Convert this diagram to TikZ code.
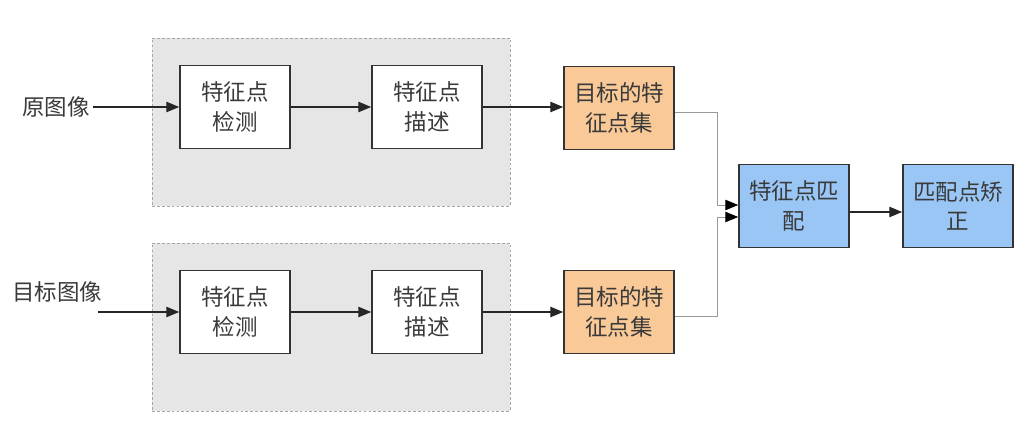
\documentclass[tikz,border=0pt]{standalone}
\usepackage{fontspec}
\newfontfamily\cjk{Noto Sans CJK SC}
\usetikzlibrary{arrows.meta, positioning, calc}
\definecolor{featorange}{RGB}{249,202,152}
\definecolor{matchblue}{RGB}{153,198,245}
\definecolor{panelgray}{RGB}{230,230,230}
\definecolor{inkgray}{RGB}{58,58,58}

\begin{document}
\begin{tikzpicture}[
    x=0.025cm, y=-0.025cm,
    panel/.style={draw=black!35, line width=0.5pt, dash pattern=on 2pt off 1.5pt, fill=panelgray, minimum width=8.95cm, minimum height=4.2cm, inner sep=0pt},
    box/.style={draw=black!80, fill=white, line width=1.2pt, minimum width=2.75cm, minimum height=2.075cm, align=center, inner sep=1pt, font=\cjk\fontsize{16}{21}\selectfont, text=inkgray},
    lbl/.style={font=\cjk\fontsize{16}{21}\selectfont, text=inkgray, inner sep=2pt},
    arr/.style={draw=black!85, line width=0.8pt, -{Triangle[length=3.2mm, width=2.6mm]}},
    link/.style={draw=black!40, line width=0.6pt, -{Triangle[length=3.2mm, width=2.6mm, color=black]}}
]
    \fill[white] (0,0) rectangle (1025,433);
    \useasboundingbox (0,0) rectangle (1025,433);

    \node[panel] (pnl1) at (331,122) {};
    \node[panel] (pnl2) at (331,327) {};

    \node[box] (det1) at (235,107) {特征点\\检测};
    \node[box] (desc1) at (427,107) {特征点\\描述};
    \node[box, fill=featorange] (feat1) at (619,108) {目标的特\\征点集};
    \node[box] (det2) at (235,312) {特征点\\检测};
    \node[box] (desc2) at (427,312) {特征点\\描述};
    \node[box, fill=featorange] (feat2) at (619,312) {目标的特\\征点集};
    \node[box, fill=matchblue] (match) at (794,206) {特征点匹\\配};
    \node[box, fill=matchblue] (fix) at (958,206) {匹配点矫\\正};

    \node[lbl] (src) at (56,107) {原图像};
    \node[lbl] (tgt) at (57,292) {目标图像};
    \coordinate (in2) at (98,312);
    \coordinate (join) at (717,211);

    \draw[arr] (src) -- (det1);
    \draw[arr] (det1) -- (desc1);
    \draw[arr] (desc1) -- (feat1.west |- desc1);
    \draw[arr] (in2) -- (det2);
    \draw[arr] (det2) -- (desc2);
    \draw[arr] (desc2) -- (feat2);
    \draw[link] ($(feat1.east)+(0,4)$) -| ($(join)+(0,-6)$) -- ($(match.west)+(0,-1)$);
    \draw[link] ($(feat2.east)+(0,4)$) -| ($(join)+(0,6)$) -- ($(match.west)+(0,11)$);
    \draw[arr] ($(match.east)+(0,6)$) -- ($(fix.west)+(0,6)$);
\end{tikzpicture}
\end{document}
